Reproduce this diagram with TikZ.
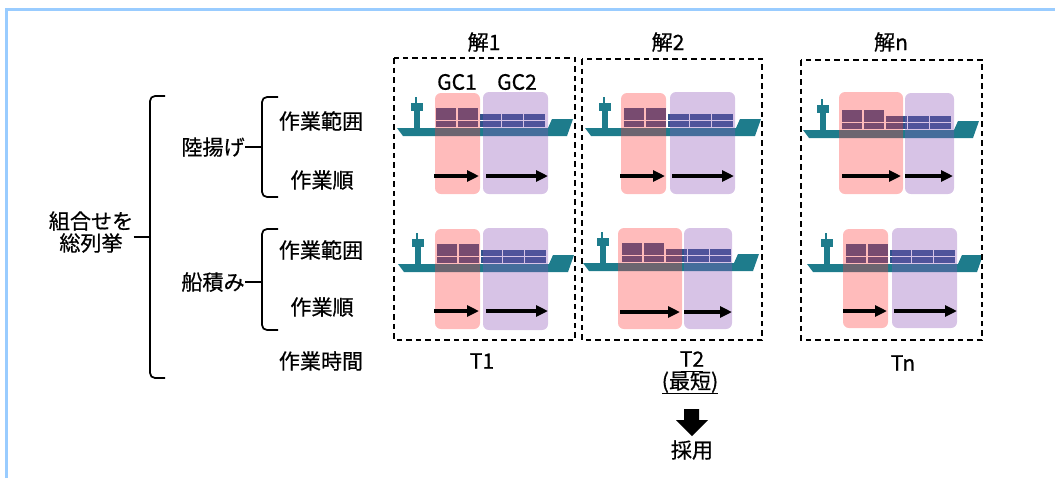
\documentclass[tikz,border=0pt]{standalone}
\usepackage{fontspec}
\setmainfont{Noto Sans CJK JP}[FakeBold=0.6]
\usetikzlibrary{arrows.meta}
\definecolor{shipteal}{RGB}{30,124,140}
\definecolor{boxblue}{RGB}{48,84,140}
\definecolor{gcred}{RGB}{255,60,60}
\definecolor{gcviolet}{RGB}{140,83,183}
\definecolor{frameblue}{RGB}{153,204,255}
\newcommand{\ship}[2]{% hull left x, deck y
\begin{scope}[shift={(#1,#2)}]
  \fill[shipteal] (0,0) -- (151,0) -- (155,-9) -- (176,-9) -- (170,8) -- (6,8) -- cycle;
  \fill[shipteal] (18,-31) rectangle (20,-25);
  \fill[shipteal] (14,-25) rectangle (26,-17);
  \fill[shipteal] (17,-17) rectangle (23,0);
  % tall stacks, then the low ones
  \foreach \cx in {39,61}
    \foreach \cy in {-20.5,-13.75,-7}
      \fill[boxblue] (\cx,\cy) rectangle ++(20,6);
  \foreach \cx in {83,105,127}
    \foreach \cy in {-13.75,-7}
      \fill[boxblue] (\cx,\cy) rectangle ++(21,6);
\end{scope}
}
\newcommand{\curly}[5]{% spine x, top y, bottom y, hook x, options
\draw[bracket,#5] (#4,#2) -- (#1,#2) -- (#1,#3) -- (#4,#3);
}
\tikzset{
  solbox/.style={draw, line width=0.04cm, dash pattern=on 0.11cm off 0.08cm},
  gcone/.style={fill=gcred, fill opacity=0.35, rounded corners=0.12cm},
  gctwo/.style={fill=gcviolet, fill opacity=0.35, rounded corners=0.12cm},
  order/.style={line width=0.075cm, -{Triangle[length=0.24cm,width=0.22cm]}},
  bracket/.style={line width=0.035cm, rounded corners=0.1cm},
  lbl/.style={inner sep=0pt, font=\fontsize{12}{12.5}\selectfont},
  uline/.style={line width=0.035cm},
}
\begin{document}
\begin{tikzpicture}[x=0.02cm,y=-0.02cm]
  \useasboundingbox (0,0) rectangle (1055,478);
  \draw[frameblue, line width=0.06cm] (6.5,478) -- (6.5,9.5) -- (1055,9.5);

  % left-hand tree
  \node[lbl, align=center] (whole) at (91,232) {組合せを\\総列挙};
  \node[lbl, anchor=east] (rikuage) at (245,147) {陸揚げ};
  \node[lbl, anchor=east] (funazumi) at (245,282) {船積み};
  \node[lbl] (range1) at (321,121) {作業範囲};
  \node[lbl] (order1) at (322,180) {作業順};
  \node[lbl] (range2) at (321,250) {作業範囲};
  \node[lbl] (order2) at (322,307) {作業順};
  \node[lbl] (worktime) at (321,361) {作業時間};
  \curly{150}{96}{378}{165}{}
  \draw[bracket] (whole.east |- 0,237) -- (150,237);
  \curly{262}{97}{197}{278}{}
  \draw[bracket] (rikuage.east) -- (262,147);
  \curly{262}{229}{330}{278}{}
  \draw[bracket] (funazumi.east) -- (262,282);

  % ships
  \ship{397}{128}
  \ship{398}{264}
  \ship{585}{128}
  \ship{583}{263}
  \ship{803}{130}
  \ship{807}{264}

  % crane ranges
  \fill[gcone] (435,93) rectangle (480,194);
  \fill[gctwo] (483,92) rectangle (548,194);
  \fill[gcone] (435,229) rectangle (480,329);
  \fill[gctwo] (483,228) rectangle (548,330);
  \fill[gcone] (621,93) rectangle (666,194);
  \fill[gctwo] (670,92) rectangle (735,194);
  \fill[gcone] (618,228) rectangle (682,329);
  \fill[gctwo] (684,228) rectangle (732,329);
  \fill[gcone] (839,92) rectangle (903,194);
  \fill[gctwo] (905,93) rectangle (954,194);
  \fill[gcone] (843,229) rectangle (888,328);
  \fill[gctwo] (892,228) rectangle (957,328);

  % work order
  \draw[order] (434,176) -- (479,176);
  \draw[order] (486,176) -- (548,176);
  \draw[order] (434,311) -- (479,311);
  \draw[order] (486,311) -- (548,311);
  \draw[order] (620,176) -- (665,176);
  \draw[order] (672,176) -- (734,176);
  \draw[order] (620,312) -- (680,312);
  \draw[order] (684,312) -- (732,312);
  \draw[order] (842,176) -- (901,176);
  \draw[order] (905,176) -- (953,176);
  \draw[order] (843,311) -- (887,311);
  \draw[order] (894,311) -- (957,311);

  % solutions
  \draw[solbox] (394,58) rectangle (575,340);
  \draw[solbox] (582,59) rectangle (762,340);
  \draw[solbox] (801,60) rectangle (982,340);
  \node[lbl] (sol1) at (484,42) {解1};
  \node[lbl] (sol2) at (668,42) {解2};
  \node[lbl] (soln) at (891,42) {解n};
  \node[lbl] (gc1) at (457,82) {GC1};
  \node[lbl] (gc2) at (517,82) {GC2};
  \node[lbl] (t1) at (482,361) {T1};
  \node[lbl] (t2) at (692,359) {T2};
  \node[lbl] (best) at (690,382) {(最短)};
  \draw[uline] (681,371.5) -- (703,371.5);
  \draw[uline] (662,393.5) -- (718,393.5);
  \node[lbl] (tn) at (903,363) {Tn};
  \node[lbl] (adopt) at (692,450) {採用};
  \fill (684,409) -- (699,409) -- (699,420) -- (708,420) -- (692,436) -- (676,420) -- (684,420) -- cycle;
\end{tikzpicture}
\end{document}
